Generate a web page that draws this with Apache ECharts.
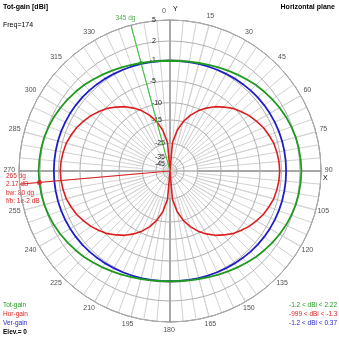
<!DOCTYPE html>
<html>
<head>
<meta charset="utf-8">
<script src="https://cdn.jsdelivr.net/npm/echarts@6/dist/echarts.min.js"></script>
<style>
  html, body { margin: 0; padding: 0; background: #fff; }
  #chart { width: 339px; height: 339px; }
</style>
</head>
<body>
<div id="chart"></div>
<script>
// Azimuth of each pattern sample, degrees clockwise from +Y
const azimuth = [
  0, 5, 10, 15, 20, 25, 30, 35, 40, 45, 50, 55, 60, 65, 70, 75, 80, 85, 90,
  95, 100, 105, 110, 115, 120, 125, 130, 135, 140, 145, 150, 155, 160, 165, 170, 175, 180,
  185, 190, 195, 200, 205, 210, 215, 220, 225, 230, 235, 240, 245, 250, 255, 260, 265, 270,
  275, 280, 285, 290, 295, 300, 305, 310, 315, 320, 325, 330, 335, 340, 345, 350, 355, 360
];

// Total gain, dBi
const totGain = [
  -1.2, -1.17, -1.07, -0.93, -0.73, -0.49, -0.23, 0.06, 0.36, 0.68, 0.95, 1.22, 1.47, 1.7, 1.88, 2.03, 2.12, 2.17, 2.22,
  2.17, 2.12, 2.03, 1.88, 1.7, 1.47, 1.22, 0.95, 0.68, 0.36, 0.06, -0.23, -0.49, -0.73, -0.93, -1.07, -1.17, -1.2,
  -1.17, -1.07, -0.93, -0.73, -0.49, -0.23, 0.06, 0.36, 0.68, 0.95, 1.22, 1.47, 1.7, 1.88, 2.03, 2.12, 2.17, 2.22,
  2.17, 2.12, 2.03, 1.88, 1.7, 1.47, 1.22, 0.95, 0.68, 0.36, 0.06, -0.23, -0.49, -0.73, -0.93, -1.07, -1.17, -1.2
];

// Horizontally polarised gain, dBi (-999 = null)
const horGain = [
  -999, -24.6, -18.5, -15.0, -12.5, -10.5, -8.9, -7.5, -6.4, -5.3, -4.5, -3.7, -3.1, -2.5, -2.1, -1.7, -1.5, -1.35, -1.3,
  -1.35, -1.5, -1.7, -2.1, -2.5, -3.1, -3.7, -4.5, -5.3, -6.4, -7.5, -8.9, -10.5, -12.5, -15.0, -18.5, -24.6, -999,
  -24.6, -18.5, -15.0, -12.5, -10.5, -8.9, -7.5, -6.4, -5.3, -4.5, -3.7, -3.1, -2.5, -2.1, -1.7, -1.5, -1.35, -1.3,
  -1.35, -1.5, -1.7, -2.1, -2.5, -3.1, -3.7, -4.5, -5.3, -6.4, -7.5, -8.9, -10.5, -12.5, -15.0, -18.5, -24.6, -999
];

// Vertically polarised gain, dBi
const verGain = [
  -1.2, -1.19, -1.15, -1.1, -1.03, -0.95, -0.86, -0.76, -0.66, -0.56, -0.47, -0.4, -0.34, -0.29, -0.25, -0.22, -0.21, -0.2, -0.2,
  -0.2, -0.21, -0.22, -0.25, -0.29, -0.34, -0.4, -0.47, -0.56, -0.66, -0.76, -0.86, -0.95, -1.03, -1.1, -1.15, -1.19, -1.2,
  -1.19, -1.15, -1.1, -1.03, -0.95, -0.86, -0.76, -0.66, -0.56, -0.47, -0.4, -0.34, -0.29, -0.25, -0.22, -0.21, -0.2, -0.2,
  -0.2, -0.21, -0.22, -0.25, -0.29, -0.34, -0.4, -0.47, -0.56, -0.66, -0.76, -0.86, -0.95, -1.03, -1.1, -1.15, -1.19, -1.2
];

// Gain rings (dBi) and labelled azimuths
const ringDb = [5, 2, -1, -5, -10, -15, -25, -35, -45];
const azimuthLabels = [0, 15, 30, 45, 60, 75, 90, 105, 120, 135, 150, 165, 180, 195, 210, 225, 240, 255, 270, 285, 300, 315, 330];

// Cursor directions: total-gain cursor and peak cursor
const cursorAngles = [345, 265];
const peakInfo = ['265 dg', '2.17 dB', 'bw: 80 dg', 'f/b: 1e-2 dB'];

const traceNames = ['Tot-gain', 'Hor-gain', 'Ver-gain'];
const traceRanges = ['-1.2 < dBi < 2.22', '-999 < dBi < -1.3', '-1.2 < dBi < 0.37'];
const headerLeft = ['Tot-gain [dBi]', 'Freq=174'];
const headerRight = 'Horizontal plane';
const elevation = 'Elev.= 0';

// ---- log-like radial gain scale: 0 at centre, 1 at the outer (top) ring
const TOP_DB = ringDb[0];
function radial(db) {
  if (db <= -60) return 0;
  const x = Math.max(0, TOP_DB - db);
  return Math.exp(-0.0492 * x - 0.000248 * x * x);
}

const GREEN = '#1e9a1e', RED = '#dc1e1e', BLUE = '#1e1ec8';
const FONT = 'Liberation Sans, Arial, sans-serif';
const ringPos = ringDb.map(radial);

function trace(values) {
  return azimuth.map((a, i) => [radial(values[i]), a]);
}

const CX = 170, CY = 171, R = 151;
const LABEL_RING = 1.058;   // azimuth labels sit just outside the outer ring

const spokeColors15 = ['#8a8a8a', '#d2d2d2', '#d2d2d2', '#d2d2d2', '#d2d2d2', '#d2d2d2'];
const spokeColors5 = ['#8a8a8a'].concat(new Array(17).fill('#d2d2d2'));

// ring label spacing from the Y axis: outer labels sit further left
function ringLabelStyle(db) {
  return db >= -5 ? 'far' : (db >= -15 ? 'mid' : 'near');
}

const chart = echarts.init(document.getElementById('chart'), null, { renderer: 'canvas' });

const totAt = a => totGain[azimuth.indexOf(a)];
const polarSeries = (o) => Object.assign({ coordinateSystem: 'polar', polarIndex: 0 }, o);

chart.setOption({
  backgroundColor: '#fff',
  animation: false,
  polar: [
    { center: [CX, CY], radius: R },
    { center: [CX, CY], radius: [27, R] }
  ],
  angleAxis: [
    {
      polarIndex: 0, type: 'value', min: 0, max: 360, interval: 15,
      startAngle: 90, clockwise: true,
      axisLine: { show: true, lineStyle: { color: '#6e6e6e', width: 1 } },
      axisTick: { show: false },
      axisLabel: { show: false },
      splitLine: { show: true, lineStyle: { color: spokeColors15, width: 1 } },
      z: 1
    },
    {
      polarIndex: 1, type: 'value', min: 0, max: 360, interval: 5,
      startAngle: 90, clockwise: true,
      axisLine: { show: false }, axisTick: { show: false }, axisLabel: { show: false },
      splitLine: { show: true, lineStyle: { color: spokeColors5, width: 1 } },
      z: 1
    }
  ],
  radiusAxis: [
    {
      polarIndex: 0, type: 'value', min: 0, max: 1,
      axisLine: { show: false },
      axisTick: { show: false, customValues: ringPos },
      axisLabel: {
        customValues: ringPos, margin: 2, fontSize: 7, fontFamily: FONT, color: '#222',
        formatter: v => {
          const i = ringPos.findIndex(p => Math.abs(p - v) < 1e-6);
          if (i < 0) return '';
          return '{' + ringLabelStyle(ringDb[i]) + '|' + ringDb[i] + '}';
        },
        rich: {
          far: { padding: [0, 12, 0, 0], fontSize: 7, fontFamily: FONT, color: '#222' },
          mid: { padding: [0, 6, 0, 0], fontSize: 7, fontFamily: FONT, color: '#222' },
          near: { padding: [0, 3, 0, 0], fontSize: 7, fontFamily: FONT, color: '#222' }
        }
      },
      splitLine: { show: true, lineStyle: { color: '#b0b0b0', width: 1 } },
      z: 2
    },
    {
      polarIndex: 1, type: 'value', min: 0, max: 1,
      axisLine: { show: false }, axisTick: { show: false }, axisLabel: { show: false },
      splitLine: { show: false }
    }
  ],
  series: [
    // Y axis continues a little past the outer ring
    polarSeries({
      type: 'line', data: [[1, 0], [1.04, 0]], symbol: 'none', silent: true,
      lineStyle: { color: '#8a8a8a', width: 1 }, clip: false, z: 2
    }),
    // azimuth labels
    polarSeries({
      type: 'scatter', symbolSize: 0, silent: true, clip: false, z: 3,
      data: azimuthLabels.map(a => ({
        value: [LABEL_RING, a],
        label: a === 0 ? { offset: [-6, 0] } : undefined
      })),
      label: {
        show: true, position: 'inside', offset: [-1, -1],
        formatter: p => String(p.value[1]),
        color: '#222', fontSize: 7, fontFamily: FONT
      }
    }),
    polarSeries({
      name: traceNames[1], type: 'line', data: trace(horGain),
      symbol: 'none', lineStyle: { color: RED, width: 1.6 }, clip: false, z: 5
    }),
    polarSeries({
      name: traceNames[2], type: 'line', data: trace(verGain),
      symbol: 'none', lineStyle: { color: BLUE, width: 1.8 }, clip: false, z: 6
    }),
    polarSeries({
      name: traceNames[0], type: 'line', data: trace(totGain),
      symbol: 'none', lineStyle: { color: GREEN, width: 1.8 }, clip: false, z: 7
    }),
    // total-gain cursor
    polarSeries({
      type: 'line', data: [[0, cursorAngles[0]], [1.01, cursorAngles[0]]],
      symbol: 'none', lineStyle: { color: '#2ec82e', width: 1 }, clip: false, z: 8
    }),
    polarSeries({
      type: 'scatter', data: [[radial(totAt(cursorAngles[0])), cursorAngles[0]]],
      symbolSize: 4, itemStyle: { color: GREEN }, z: 9
    }),
    polarSeries({
      type: 'scatter', data: [[1.01, cursorAngles[0]]],
      symbolSize: 0, clip: false, z: 9,
      label: {
        show: true, position: 'top', distance: 2, offset: [-5, 0],
        formatter: cursorAngles[0] + ' dg', color: GREEN, fontSize: 6.5, fontFamily: FONT
      }
    }),
    // peak cursor
    polarSeries({
      type: 'line', data: [[0, cursorAngles[1]], [1.13, cursorAngles[1]]],
      symbol: 'none', lineStyle: { color: RED, width: 1 }, clip: false, z: 8
    }),
    polarSeries({
      type: 'scatter', data: [[radial(totAt(cursorAngles[1])), cursorAngles[1]]],
      symbolSize: 5, itemStyle: { color: RED }, z: 9
    })
  ],
  graphic: [
    { type: 'text', x: 3, y: 7, style: { text: headerLeft[0], fill: '#000', font: 'bold 7px ' + FONT, verticalAlign: 'middle' } },
    { type: 'text', x: 3, y: 25, style: { text: headerLeft[1], fill: '#000', font: '7px ' + FONT, verticalAlign: 'middle' } },
    { type: 'text', x: 335, y: 7, style: { text: headerRight, fill: '#000', font: 'bold 7px ' + FONT, align: 'right', verticalAlign: 'middle' } },
    { type: 'text', x: 173, y: 9, style: { text: 'Y', fill: '#000', font: '7px ' + FONT, verticalAlign: 'middle' } },
    { type: 'text', x: 323, y: 178, style: { text: 'X', fill: '#000', font: '7px ' + FONT, verticalAlign: 'middle' } },
    ...peakInfo.map((t, i) => ({
      type: 'text', x: 6, y: 176 + i * 8.4,
      style: { text: t, fill: RED, font: '6.5px ' + FONT, verticalAlign: 'middle' }
    })),
    ...traceNames.map((t, i) => ({
      type: 'text', x: 3, y: 305.7 + i * 8.8,
      style: { text: t, fill: [GREEN, RED, BLUE][i], font: '6.5px ' + FONT, verticalAlign: 'middle' }
    })),
    { type: 'text', x: 3, y: 332.3, style: { text: elevation, fill: '#000', font: 'bold 6.5px ' + FONT, verticalAlign: 'middle' } },
    ...traceRanges.map((t, i) => ({
      type: 'text', x: 289, y: 305.7 + i * 8.8,
      style: { text: t, fill: [GREEN, RED, BLUE][i], font: '6.5px ' + FONT, verticalAlign: 'middle' }
    }))
  ]
});
</script>
</body>
</html>
